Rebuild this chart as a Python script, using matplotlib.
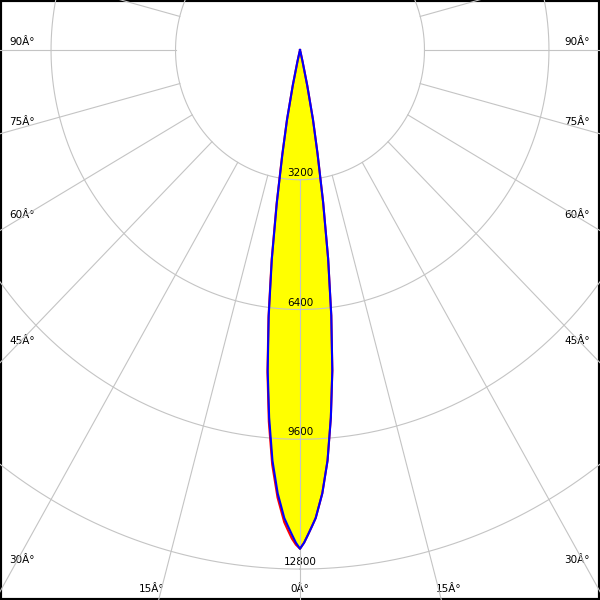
import numpy as np
import matplotlib
matplotlib.use('Agg')
import matplotlib.pyplot as plt

# beam intensity (cd) vs angle from nadir (deg)
angles = [0, 0.5, 1, 1.5, 2, 3, 4, 5, 6, 7, 8, 9, 10, 11, 12, 13, 14, 15]
blue_cd = [12300, 12150, 11950, 11750, 11550, 10950, 10150, 9100, 7950, 6600, 5200, 3800, 2600, 1750, 900, 300, 80, 0]
red_cd = [12300, 12200, 12050, 11850, 11650, 11050, 10250, 9200, 8000, 6650, 5250, 3850, 2650, 1750, 900, 300, 80, 0]

ring_values = [3200, 6400, 9600, 12800]
side_angles = [30, 45, 60, 75, 90]
bottom_angles = [0, 15]

# pixel per candela (chart is a bit stretched vertically)
PX_X = 0.0389
PX_Y = 0.04055


def to_xy(theta_deg, cd):
    t = np.radians(theta_deg)
    cd = np.asarray(cd, dtype=float)
    return cd * np.sin(t), -cd * np.cos(t)


fig = plt.figure(figsize=(6, 6), dpi=100)
ax = fig.add_axes([0, 0, 1, 1])
xmax = 300 / PX_X
ymin, ymax = -550 / PX_Y, 50 / PX_Y
ax.set_xlim(-xmax, xmax)
ax.set_ylim(ymin, ymax)
ax.set_xticks([])
ax.set_yticks([])
for s in ax.spines.values():
    s.set_linewidth(3)
    s.set_color('black')

a = np.array(angles, dtype=float)
full_th = np.concatenate([-a[::-1], a[1:]])
blue_full = np.concatenate([blue_cd[::-1], blue_cd[1:]])
red_full = np.concatenate([red_cd[::-1], blue_cd[1:]])

bx, by = to_xy(full_th, blue_full)
rx, ry = to_xy(full_th, red_full)

ax.fill(bx, by, color='#ffff00', zorder=1, linewidth=0)
ax.fill(rx, ry, color='#ffff00', zorder=1, linewidth=0)

# grid
grid_col = '#c4c4c4'
t = np.linspace(0, 360, 721)
for r in ring_values:
    gx, gy = to_xy(t, np.full_like(t, r))
    ax.plot(gx, gy, color=grid_col, lw=0.8, zorder=3)
for ang in range(-180, 181, 15):
    lx, ly = to_xy(np.array([ang, ang]), [ring_values[0], 25000])
    ax.plot(lx, ly, color=grid_col, lw=0.8, zorder=3)

# ring labels
for r in ring_values:
    ax.text(0, -r + 7 / PX_Y, str(r), ha='center', va='center',
            fontsize=7.5, color='black', zorder=2)

# angle labels on the sides
for ang in side_angles:
    xa = xmax - 13 / PX_X
    t_ang = np.radians(ang)
    y_line = -xa * np.cos(t_ang) / np.sin(t_ang)
    y_txt = y_line + 8 / PX_Y
    lab = str(ang) + 'Â°'
    ax.text(-xmax + 9 / PX_X, y_txt, lab, ha='left', va='center', fontsize=7.5, zorder=2)
    ax.text(xmax - 10 / PX_X, y_txt, lab, ha='right', va='center', fontsize=7.5, zorder=2)

# angle labels at the bottom
for ang in bottom_angles:
    x_line = -ymin * np.tan(np.radians(ang))
    y_txt = ymin + 11 / PX_Y
    lab = str(ang) + 'Â°'
    if ang == 0:
        ax.text(0, y_txt, lab, ha='center', va='center', fontsize=7.5, zorder=2)
    else:
        xo = x_line + 7 / PX_X
        ax.text(-xo, y_txt, lab, ha='center', va='center', fontsize=7.5, zorder=2)
        ax.text(xo, y_txt, lab, ha='center', va='center', fontsize=7.5, zorder=2)

ax.plot(rx, ry, color='#ff0000', lw=1.5, zorder=4)
ax.plot(bx, by, color='#0000ff', lw=1.5, zorder=5)

fig.savefig('out.png', dpi=100)
